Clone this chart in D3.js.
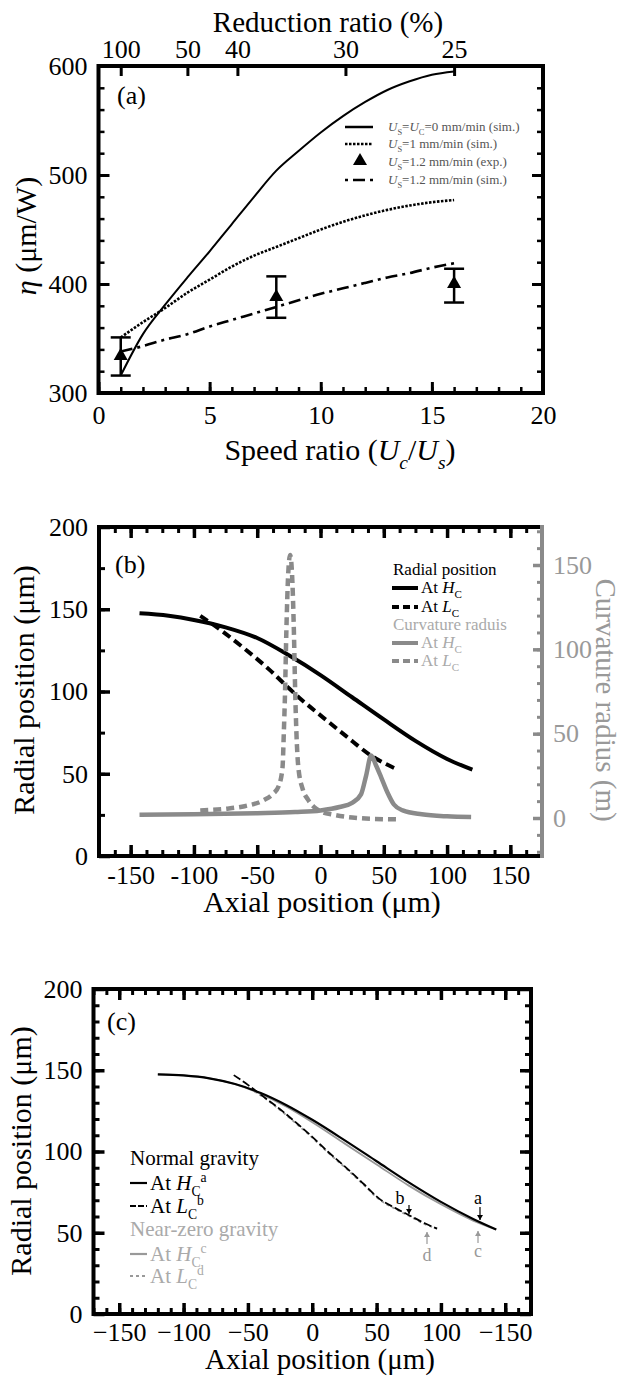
<!DOCTYPE html>
<html>
<head>
<meta charset="utf-8">
<script src="https://cdn.jsdelivr.net/npm/d3@7"></script>
<style>
body { margin: 0; background: #fff; }
</style>
</head>
<body>
<svg id="fig" width="624" height="1378"></svg>
<script>
// ---------- data, panel (a) ----------
const aSpeed = [1, 2, 3, 4, 5, 6, 7, 8, 9, 10, 11, 12, 13, 14, 15, 16];
const aSim0 = [316, 354, 381, 406, 430, 455, 480, 504, 522, 539, 554, 567, 578, 586, 592, 595];
const aSim1 = [351, 365, 378, 392, 404, 416, 426, 434, 442, 450, 457, 463, 468, 472, 475, 477];
const aSim12 = [338, 343, 349, 354, 361, 367, 373, 379, 385, 391, 396, 401, 406, 410, 415, 419];
const aExpX = [1, 8, 16];
const aExpY = [335, 389, 401];
const aExpLo = [316, 369, 383];
const aExpHi = [351, 407, 414];
const aReduction = [100, 50, 40, 30, 25];

// ---------- data, panel (b) ----------
const bHcX = [-143, -120, -100, -75, -50, -25, 0, 25, 50, 75, 100, 120];
const bHcY = [147.5, 146, 143.5, 139, 132.5, 122, 110, 96.5, 83, 70, 59, 52.5];
const bLcX = [-95, -80, -60, -40, -25, -15, 0, 20, 40, 61];
const bLcY = [146, 138, 126, 113, 102, 95, 85.5, 73, 61, 52.5];
const bCurHcX = [-143, -100, -50, -20, 0, 15, 25, 32, 36, 40, 44, 48, 53, 58, 65, 80, 100, 119];
const bCurHcY = [2, 2.2, 2.8, 3.5, 4.5, 6.5, 9, 14, 25, 37, 31, 24, 15, 8, 4.5, 2.2, 1, 0.6];
const bCurLcX = [-95, -75, -60, -45, -38, -33, -30, -29, -28, -27, -25.5, -24, -22.5, -21, -20, -19, -17.5, -14, -10, -5, 0, 10, 25, 40, 60];
const bCurLcY = [4.5, 5.5, 7, 10.5, 14, 19, 30, 50, 75, 110, 145, 156, 145, 110, 75, 50, 30, 17, 11, 6.5, 4, 2, 0.3, -0.5, -0.8];

// ---------- data, panel (c) ----------
const cHcX = [-120, -100, -80, -60, -40, -20, 0, 25, 50, 75, 100, 125, 143];
const cHcNormal = [147.5, 146.8, 145, 141.5, 136, 128.5, 119.5, 107, 94, 81, 69, 58.5, 52];
const cHcZero = [147.5, 146.8, 145, 141.5, 135.5, 127.5, 118, 105, 92, 79, 67.5, 57.5, 52];
const cLcX = [-61, -50, -40, -25, -10, 0, 12, 25, 40, 52, 65, 76, 87, 97];
const cLcNormal = [147, 141, 135, 126, 116, 109, 100, 91, 80, 71, 65, 60.5, 56, 52.5];
const cLcZeroX = [-45, -40, -25, -10, 0, 12, 25, 40, 52, 65, 76, 87, 97];
const cLcZero = [137, 134.5, 125.5, 115.5, 108.5, 99.5, 90.5, 79.5, 70.5, 64.5, 60, 55.5, 52.5];

const FONT = '"Liberation Serif", "Times New Roman", serif';
const GREY = '#8a8a8a';
const svg = d3.select('#fig').attr('font-family', FONT);
svg.append('rect').attr('width', 624).attr('height', 1378).attr('fill', '#fff');

const range = (a, b, s) => d3.range(a, b + s / 2, s);

const tickSet = (axisMaker, scale, values, len, tx, ty, color, w) => {
    const ax = axisMaker(scale).tickValues(values).tickSize(-len).tickFormat('');
    const g = svg.append('g').attr('transform', `translate(${tx},${ty})`).call(ax);
    g.select('.domain').remove();
    g.selectAll('.tick line').attr('stroke', color).attr('stroke-width', w);
    return g;
}

const labelSet = (axisMaker, scale, values, fmt, pad, tx, ty, color, size) => {
    const ax = axisMaker(scale).tickValues(values).tickSize(0).tickPadding(pad).tickFormat(fmt);
    const g = svg.append('g').attr('transform', `translate(${tx},${ty})`).call(ax);
    g.select('.domain').remove();
    g.selectAll('.tick line').remove();
    g.attr('font-family', FONT).attr('font-size', size);
    g.selectAll('text').attr('fill', color);
    return g;
}

// rich text: parts like {t, i, sub, sup}
const rich = (sel, parts, size) => {
    let shift = 0;
    parts.forEach(p => {
        const target = p.sub ? size * 0.3 : p.sup ? -size * 0.38 : 0;
        const ts = sel.append('tspan').text(p.t)
            .attr('font-size', (p.sub || p.sup) ? size * 0.65 : size)
            .attr('dy', target - shift);
        if (p.i) ts.attr('font-style', 'italic');
        shift = target;
    });
    return sel;
}

const frame = (x0, x1, y0, y1, rightColor) => {
    svg.append('path')
        .attr('d', `M${x1},${y0}H${x0}V${y1}H${x1}`)
        .attr('fill', 'none').attr('stroke', '#000').attr('stroke-width', 4)
        .attr('stroke-linecap', 'square');
    svg.append('line')
        .attr('x1', x1).attr('x2', x1).attr('y1', y0 - 2).attr('y2', y1 + 2)
        .attr('stroke', rightColor || '#000').attr('stroke-width', 4);
}

const drawLine = (x, y, xs, ys, color, w, dash) => {
    const line = d3.line().x(d => x(d[0])).y(d => y(d[1])).curve(d3.curveMonotoneX);
    return svg.append('path')
        .attr('d', line(d3.zip(xs, ys)))
        .attr('fill', 'none').attr('stroke', color).attr('stroke-width', w)
        .attr('stroke-dasharray', dash || null);
}

// ================= panel (a) =================
const xA = d3.scaleLinear().domain([0, 20]).range([98.5, 543]);
const yA = d3.scaleLinear().domain([300, 600]).range([393, 66]);
const aRedPos = aReduction.map(r => (100 / r) * (100 / r));

const drawPanelA = () => {
    const majX = range(0, 20, 5), minX = range(0, 20, 1);
    const majY = range(300, 600, 100), minY = range(300, 600, 20);
    tickSet(d3.axisBottom, xA, minX, 6, 0, 393, '#000', 2.5);
    tickSet(d3.axisBottom, xA, majX, 11, 0, 393, '#000', 3);
    tickSet(d3.axisLeft, yA, minY, 6, 98.5, 0, '#000', 2.5);
    tickSet(d3.axisLeft, yA, majY, 11, 98.5, 0, '#000', 3);
    tickSet(d3.axisRight, yA, minY, 6, 543, 0, '#000', 2.5);
    tickSet(d3.axisRight, yA, majY, 11, 543, 0, '#000', 3);
    tickSet(d3.axisTop, xA, aRedPos, 10, 0, 66, '#000', 3);
    frame(98.5, 543, 66, 393);

    labelSet(d3.axisBottom, xA, majX, d3.format('d'), 13, 0, 393, '#000', 26);
    labelSet(d3.axisLeft, yA, majY, d3.format('d'), 11, 98.5, 0, '#000', 26);
    labelSet(d3.axisTop, xA, aRedPos, (d, i) => aReduction[i], 8, 0, 66, '#000', 26);

    svg.append('text').attr('x', 328).attr('y', 32).attr('text-anchor', 'middle')
        .attr('font-size', 29).text('Reduction ratio (%)');
    rich(svg.append('text').attr('text-anchor', 'middle').attr('transform', 'translate(36,236) rotate(-90)'),
        [{ t: 'η', i: true }, { t: ' (μm/W)' }], 30);
    rich(svg.append('text').attr('x', 340).attr('y', 460).attr('text-anchor', 'middle'),
        [{ t: 'Speed ratio (' }, { t: 'U', i: true }, { t: 'c', i: true, sub: true }, { t: '/' },
         { t: 'U', i: true }, { t: 's', i: true, sub: true }, { t: ')' }], 30);
    svg.append('text').attr('x', 117).attr('y', 104).attr('font-size', 26).text('(a)');

    drawLine(xA, yA, aSpeed, aSim0, '#000', 2);
    drawLine(xA, yA, aSpeed, aSim1, '#000', 2.6, '2.5,1.5');
    drawLine(xA, yA, aSpeed, aSim12, '#000', 2.6, '12,5,3,5');

    const eb = svg.append('g').attr('stroke', '#000').attr('stroke-width', 2.5);
    aExpX.forEach((v, i) => {
        const cx = xA(v);
        eb.append('line').attr('x1', cx).attr('x2', cx).attr('y1', yA(aExpLo[i])).attr('y2', yA(aExpHi[i]));
        eb.append('line').attr('x1', cx - 10).attr('x2', cx + 10).attr('y1', yA(aExpLo[i])).attr('y2', yA(aExpLo[i]));
        eb.append('line').attr('x1', cx - 10).attr('x2', cx + 10).attr('y1', yA(aExpHi[i])).attr('y2', yA(aExpHi[i]));
    });
    svg.selectAll('.tri').data(aExpX).enter().append('path').attr('class', 'tri')
        .attr('d', d3.symbol(d3.symbolTriangle, 85))
        .attr('transform', (d, i) => `translate(${xA(d)},${yA(aExpY[i]) + 1})`)
        .attr('fill', '#000');

    // legend
    const lg = svg.append('g');
    const rows = [127, 144, 162, 180];
    const txtCol = '#555';
    lg.append('line').attr('x1', 345).attr('x2', 373).attr('y1', rows[0]).attr('y2', rows[0]).attr('stroke', '#000').attr('stroke-width', 2.5);
    lg.append('line').attr('x1', 345).attr('x2', 373).attr('y1', rows[1]).attr('y2', rows[1]).attr('stroke', '#000').attr('stroke-width', 2.6).attr('stroke-dasharray', '2.5,1.5');
    lg.append('path').attr('d', d3.symbol(d3.symbolTriangle, 85)).attr('transform', `translate(360,${rows[2] - 1})`);
    lg.append('line').attr('x1', 345).attr('x2', 373).attr('y1', rows[3]).attr('y2', rows[3]).attr('stroke', '#000').attr('stroke-width', 2.6).attr('stroke-dasharray', '3,5,12,5');
    const lab = [
        [{ t: 'U', i: true }, { t: 'S', sub: true }, { t: '=' }, { t: 'U', i: true }, { t: 'C', sub: true }, { t: '=0 mm/min (sim.)' }],
        [{ t: 'U', i: true }, { t: 'S', sub: true }, { t: '=1 mm/min (sim.)' }],
        [{ t: 'U', i: true }, { t: 'S', sub: true }, { t: '=1.2 mm/min (exp.)' }],
        [{ t: 'U', i: true }, { t: 'S', sub: true }, { t: '=1.2 mm/min (sim.)' }]
    ];
    lab.forEach((p, i) => {
        rich(lg.append('text').attr('x', 388).attr('y', rows[i] + 4).attr('fill', txtCol), p, 13);
    });
}

// ================= panel (b) =================
const xB = d3.scaleLinear().domain([-175, 175]).range([99, 542]);
const yB = d3.scaleLinear().domain([0, 200]).range([856, 527]);
const yBR = d3.scaleLinear().domain([0, 150]).range([818, 565]);

const drawPanelB = () => {
    const majX = range(-150, 150, 50), minX = range(-175, 175, 12.5);
    const majY = range(0, 200, 50), minY = range(0, 200, 25);
    tickSet(d3.axisBottom, xB, minX, 6, 0, 856, '#000', 3);
    tickSet(d3.axisBottom, xB, majX, 11, 0, 856, '#000', 3.5);
    tickSet(d3.axisTop, xB, minX, 6, 0, 527, '#000', 3);
    tickSet(d3.axisTop, xB, majX, 11, 0, 527, '#000', 3.5);
    tickSet(d3.axisLeft, yB, minY, 6, 99, 0, '#000', 3);
    tickSet(d3.axisLeft, yB, majY, 11, 99, 0, '#000', 3.5);
    tickSet(d3.axisRight, yBR, range(-20, 170, 10), 5, 542, 0, GREY, 3);
    tickSet(d3.axisRight, yBR, range(0, 150, 50), 9, 542, 0, GREY, 3.5);
    frame(99, 542, 527, 856, GREY);

    labelSet(d3.axisBottom, xB, majX, d3.format('d'), 10, 0, 856, '#000', 26)
        .selectAll('text').text(d => d < 0 ? '-' + Math.abs(d) : d);
    labelSet(d3.axisLeft, yB, majY, d3.format('d'), 11, 99, 0, '#000', 26);
    labelSet(d3.axisRight, yBR, range(0, 150, 50), d3.format('d'), 11, 542, 0, '#999', 26);

    svg.append('text').attr('text-anchor', 'middle').attr('transform', 'translate(34,690) rotate(-90)')
        .attr('font-size', 30).text('Radial position (μm)');
    svg.append('text').attr('text-anchor', 'middle').attr('transform', 'translate(596,700) rotate(90)')
        .attr('font-size', 29).attr('fill', '#999').text('Curvature radius (m)');
    svg.append('text').attr('x', 322).attr('y', 912).attr('text-anchor', 'middle')
        .attr('font-size', 30).text('Axial position (μm)');
    svg.append('text').attr('x', 115).attr('y', 573).attr('font-size', 26).text('(b)');

    drawLine(xB, yB, bHcX, bHcY, '#000', 4);
    drawLine(xB, yB, bLcX, bLcY, '#000', 4, '9,5');
    drawLine(xB, yBR, bCurHcX, bCurHcY, GREY, 4.5);
    drawLine(xB, yBR, bCurLcX, bCurLcY, GREY, 4.5, '8,5');

    // legend
    const lg = svg.append('g').attr('font-size', 17);
    lg.append('text').attr('x', 393).attr('y', 575).text('Radial position');
    const items = [
        { y: 588, col: '#000', dash: null, txt: 'H' },
        { y: 607, col: '#000', dash: '7,4', txt: 'L' },
        { y: 643, col: GREY, dash: null, txt: 'H' },
        { y: 661, col: GREY, dash: '7,4', txt: 'L' }
    ];
    items.forEach(it => {
        lg.append('line').attr('x1', 392).attr('x2', 418).attr('y1', it.y).attr('y2', it.y)
            .attr('stroke', it.col).attr('stroke-width', 4).attr('stroke-dasharray', it.dash);
        rich(lg.append('text').attr('x', 421).attr('y', it.y + 5).attr('fill', it.col === '#000' ? '#000' : '#aaa'),
            [{ t: 'At ' }, { t: it.txt, i: true }, { t: 'C', sub: true }], 17);
    });
    lg.append('text').attr('x', 393).attr('y', 630).attr('fill', '#aaa').text('Curvature raduis');
}

// ================= panel (c) =================
const xC = d3.scaleLinear().domain([-170, 170]).range([93.5, 531]);
const yC = d3.scaleLinear().domain([0, 200]).range([1314, 989]);
const cXLabels = ['−150', '−100', '−50', '0', '50', '100', '−150'];

const drawPanelC = () => {
    const majX = range(-150, 150, 50), minX = range(-170, 170, 10);
    const majY = range(0, 200, 50), minY = range(0, 200, 10);
    tickSet(d3.axisBottom, xC, minX, 6, 0, 1314, '#000', 3);
    tickSet(d3.axisBottom, xC, majX, 11, 0, 1314, '#000', 3.5);
    tickSet(d3.axisTop, xC, minX, 6, 0, 989, '#000', 3);
    tickSet(d3.axisTop, xC, majX, 11, 0, 989, '#000', 3.5);
    tickSet(d3.axisLeft, yC, minY, 6, 93.5, 0, '#000', 3);
    tickSet(d3.axisLeft, yC, majY, 11, 93.5, 0, '#000', 3.5);
    tickSet(d3.axisRight, yC, minY, 6, 531, 0, '#000', 3);
    tickSet(d3.axisRight, yC, majY, 11, 531, 0, '#000', 3.5);
    frame(93.5, 531, 989, 1314);

    labelSet(d3.axisBottom, xC, majX, (d, i) => cXLabels[i], 9, 0, 1314, '#000', 26);
    labelSet(d3.axisLeft, yC, majY, d3.format('d'), 11, 93.5, 0, '#000', 26);

    svg.append('text').attr('text-anchor', 'middle').attr('transform', 'translate(31,1151) rotate(-90)')
        .attr('font-size', 30).text('Radial position (μm)');
    svg.append('text').attr('x', 320).attr('y', 1369).attr('text-anchor', 'middle')
        .attr('font-size', 29).text('Axial position (μm)');
    svg.append('text').attr('x', 107).attr('y', 1030).attr('font-size', 26).text('(c)');

    drawLine(xC, yC, cHcX, cHcZero, '#999', 1.8);
    drawLine(xC, yC, cLcZeroX, cLcZero, '#999', 1.8, '3,3');
    drawLine(xC, yC, cHcX, cHcNormal, '#000', 2.2);
    drawLine(xC, yC, cLcX, cLcNormal, '#000', 1.8, '8,3');

    // annotations
    const ann = svg.append('g').attr('font-size', 18);
    const arrow = (x, y1, y2, col) => {
        ann.append('line').attr('x1', x).attr('x2', x).attr('y1', y1).attr('y2', y2).attr('stroke', col).attr('stroke-width', 1.2);
        const d = y2 > y1 ? 1 : -1;
        ann.append('path').attr('d', `M${x - 3},${y2 - 5 * d}L${x + 3},${y2 - 5 * d}L${x},${y2}Z`).attr('fill', col);
    }
    ann.append('text').attr('x', 478).attr('y', 1204).attr('text-anchor', 'middle').text('a');
    arrow(480, 1207, 1220, '#000');
    ann.append('text').attr('x', 400).attr('y', 1204).attr('text-anchor', 'middle').text('b');
    arrow(409, 1205, 1214, '#000');
    ann.append('text').attr('x', 478).attr('y', 1257).attr('text-anchor', 'middle').attr('fill', '#999').text('c');
    arrow(478, 1243, 1231, '#999');
    ann.append('text').attr('x', 427).attr('y', 1261).attr('text-anchor', 'middle').attr('fill', '#999').text('d');
    arrow(427, 1244, 1232, '#999');

    // legend
    const lg = svg.append('g').attr('font-size', 21);
    lg.append('text').attr('x', 130).attr('y', 1165).text('Normal gravity');
    lg.append('text').attr('x', 130).attr('y', 1236).attr('fill', '#aaa').text('Near-zero gravity');
    const items = [
        { y: 1183, col: '#000', dash: null, txt: 'H', sup: 'a' },
        { y: 1206, col: '#000', dash: '6,2', txt: 'L', sup: 'b' },
        { y: 1254, col: '#999', dash: null, txt: 'H', sup: 'c' },
        { y: 1276, col: '#999', dash: '3,3', txt: 'L', sup: 'd' }
    ];
    items.forEach(it => {
        lg.append('line').attr('x1', 130).attr('x2', 147).attr('y1', it.y).attr('y2', it.y)
            .attr('stroke', it.col).attr('stroke-width', 2.2).attr('stroke-dasharray', it.dash);
        rich(lg.append('text').attr('x', 150).attr('y', it.y + 7).attr('fill', it.col === '#000' ? '#000' : '#aaa'),
            [{ t: 'At ' }, { t: it.txt, i: true }, { t: 'C', sub: true }, { t: it.sup, sup: true }], 21);
    });
}

drawPanelA();
drawPanelB();
drawPanelC();
</script>
</body>
</html>
